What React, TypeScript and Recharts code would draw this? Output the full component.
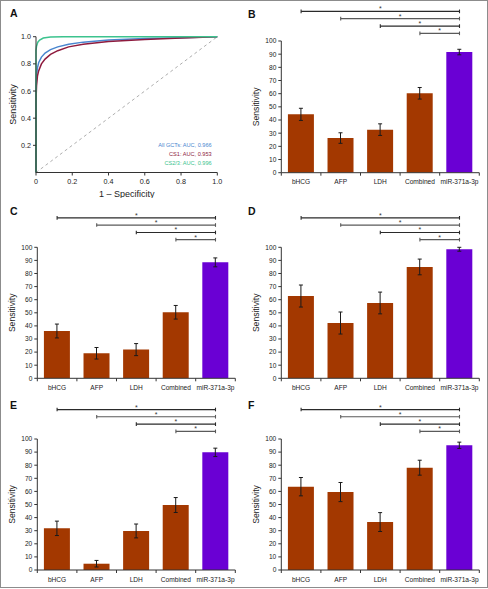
import React from 'react';
import { BarChart, Bar, XAxis, YAxis, ErrorBar, Cell, ReferenceLine, LineChart, Line } from 'recharts';

// ---------- Data ----------
const categories = ['bHCG', 'AFP', 'LDH', 'Combined', 'miR-371a-3p'];

const sensB = [44.3, 26.3, 32.7, 60.3, 91.6];
const errB = [4.6, 4.0, 4.4, 4.4, 2.1];
const sensC = [36.1, 19.1, 21.9, 50.4, 88.5];
const errC = [5.3, 4.4, 4.6, 5.2, 3.4];
const sensD = [62.8, 42.2, 57.5, 85.0, 98.5];
const errD = [8.4, 8.4, 8.3, 6.0, 1.5];
const sensE = [31.8, 4.8, 29.8, 49.6, 89.8];
const errE = [5.5, 2.5, 5.3, 5.7, 3.2];
const sensF = [63.6, 59.5, 36.6, 78.1, 95.2];
const errF = [7.0, 7.3, 7.2, 5.7, 2.4];

const yTicks = [0, 10, 20, 30, 40, 50, 60, 70, 80, 90, 100];
// significance bracket levels (data units above the 0-100 axis), from bHCG, AFP, LDH, Combined to miR-371a-3p
const bracketLevels = [122.5, 117, 111.3, 105.8];
const starLabel = '*';

// ROC curves
const rocNames = ['All GCTs: AUC, 0.966', 'CS1: AUC, 0.953', 'CS2/3: AUC, 0.996'];
const allFpr = [0, 0, 0.003, 0.008, 0.015, 0.03, 0.05, 0.08, 0.12, 0.18, 0.26, 0.4, 0.6, 0.8, 1];
const allTpr = [0, 0.6, 0.71, 0.77, 0.81, 0.85, 0.88, 0.905, 0.925, 0.945, 0.96, 0.975, 0.986, 0.993, 1];
const cs1Fpr = [0, 0, 0.003, 0.008, 0.015, 0.03, 0.05, 0.08, 0.12, 0.18, 0.26, 0.4, 0.6, 0.8, 1];
const cs1Tpr = [0, 0.53, 0.64, 0.71, 0.75, 0.8, 0.835, 0.87, 0.897, 0.925, 0.945, 0.965, 0.979, 0.99, 1];
const cs23Fpr = [0, 0, 0.003, 0.01, 0.02, 0.04, 0.08, 0.15, 1];
const cs23Tpr = [0, 0.9, 0.93, 0.96, 0.975, 0.99, 0.997, 1, 1];
const rocXTicks = [0, 0.2, 0.4, 0.6, 0.8, 1];
const rocYTicks = [0.2, 0.4, 0.6, 0.8, 1];

// ---------- Styles ----------
const BROWN = '#A33800';
const PURPLE = '#6A00D4';
const AXIS = '#333';
const FONT = '"Liberation Sans", Arial, Helvetica, sans-serif';
const rocColors = ['#4A86CF', '#8E1B3E', '#3CC38E'];

const toPoints = (xs: number[], ys: number[]) => xs.map((x, i) => ({ x, y: ys[i] }));

const CatTick = (props: any) => {
  const { x, y, payload, index } = props;
  const half = payload && payload.offset ? payload.offset : 19.8;
  const ly = y - 7;
  const isLast = index === categories.length - 1;
  return (
    <g>
      <line x1={x - half} x2={x - half} y1={ly} y2={ly + 3} stroke={AXIS} strokeWidth={1} />
      {isLast && <line x1={x + half} x2={x + half} y1={ly} y2={ly + 3} stroke={AXIS} strokeWidth={1} />}
      <text x={x} y={y} dy="0.71em" textAnchor="middle" fontSize={6.6} fill="#222">
        {payload.value}
      </text>
    </g>
  );
};

const Letter = ({ ch, left, top }: { ch: string; left: number; top: number }) => (
  <div
    style={{
      position: 'absolute',
      left,
      top,
      fontSize: 10.5,
      lineHeight: '10px',
      fontWeight: 'bold',
      color: '#111',
    }}
  >
    {ch}
  </div>
);

function BarPanel(props: {
  letter: string;
  left: number;
  top: number;
  plotTop: number;
  plotBottom: number;
  sens: number[];
  err: number[];
  letterTop: number;
}) {
  const { letter, left, top, plotTop, plotBottom, sens, err, letterTop } = props;
  const data = categories.map((c, i) => ({ name: c, value: sens[i], err: err[i] }));
  const axisH = 22;
  const height = plotBottom - top + axisH;
  const last = categories[categories.length - 1];
  const brackets: any[] = [];
  bracketLevels.forEach((lvl, i) => {
    const from = categories[i];
    const col = i % 2 === 1 ? '#5a5a5a' : '#2a2a2a';
    brackets.push(
      <ReferenceLine
        key={'b' + i}
        segment={[{ x: from, y: lvl }, { x: last, y: lvl }]}
        stroke={col}
        strokeWidth={1.2}
        ifOverflow="visible"
        label={{ value: starLabel, position: 'top', offset: 0, fontSize: 7, fill: '#333' }}
      />
    );
    brackets.push(
      <ReferenceLine
        key={'l' + i}
        segment={[{ x: from, y: lvl - 1.4 }, { x: from, y: lvl + 1.4 }]}
        stroke={col}
        strokeWidth={1.1}
        ifOverflow="visible"
      />
    );
    brackets.push(
      <ReferenceLine
        key={'r' + i}
        segment={[{ x: last, y: lvl - 1.4 }, { x: last, y: lvl + 1.4 }]}
        stroke={col}
        strokeWidth={1.1}
        ifOverflow="visible"
      />
    );
  });
  return (
    <div style={{ position: 'absolute', left, top, width: 244, height }}>
      <BarChart
        width={244}
        height={height}
        data={data}
        margin={{ top: plotTop - top, right: 8.7, bottom: 0, left: 0 }}
        barCategoryGap="16.7%"
      >
        <XAxis
          dataKey="name"
          height={axisH}
          interval={0}
          tick={<CatTick />}
          tickLine={false}
          tickSize={3}
          tickMargin={4}
          axisLine={{ stroke: AXIS }}
        />
        <YAxis
          width={37.3}
          domain={[0, 100]}
          ticks={yTicks}
          allowDataOverflow
          interval={0}
          tick={{ fontSize: 6.6, fill: '#222' }}
          tickSize={3}
          axisLine={{ stroke: AXIS }}
          tickLine={{ stroke: AXIS }}
          label={{
            value: 'Sensitivity',
            angle: -90,
            position: 'insideLeft',
            offset: 12,
            style: { textAnchor: 'middle', fontSize: 8.6, fill: '#222' },
          }}
        />
        <Bar dataKey="value" isAnimationActive={false}>
          {data.map((d, i) => (
            <Cell key={d.name} fill={i === categories.length - 1 ? PURPLE : BROWN} />
          ))}
          <ErrorBar dataKey="err" width={2} stroke="#1a1a1a" strokeWidth={1} />
        </Bar>
        {brackets}
      </BarChart>
      <Letter ch={letter} left={left === 0 ? 10 : 4} top={letterTop - top} />
    </div>
  );
}

function RocPanel() {
  const series = [toPoints(allFpr, allTpr), toPoints(cs1Fpr, cs1Tpr), toPoints(cs23Fpr, cs23Tpr)];
  return (
    <div style={{ position: 'absolute', left: 0, top: 0, width: 244, height: 198 }}>
      <LineChart width={244} height={198} margin={{ top: 36.7, right: 26.7, bottom: 0, left: 0 }}>
        <XAxis
          type="number"
          dataKey="x"
          domain={[0, 1]}
          ticks={rocXTicks}
          interval={0}
          height={25.5}
          tick={{ fontSize: 7.2, fill: '#222' }}
          tickFormatter={(v: number) => (v === 0 ? '0' : v.toFixed(1))}
          tickSize={3}
          tickMargin={3}
          axisLine={{ stroke: AXIS }}
          tickLine={{ stroke: AXIS }}
          label={{ value: '1 – Specificity', position: 'insideBottom', offset: 1, style: { fontSize: 9, fill: '#222' } }}
        />
        <YAxis
          type="number"
          dataKey="y"
          domain={[0, 1]}
          ticks={rocYTicks}
          interval={0}
          width={36}
          tick={{ fontSize: 7.2, fill: '#222' }}
          tickFormatter={(v: number) => v.toFixed(1)}
          tickSize={3}
          axisLine={{ stroke: AXIS }}
          tickLine={{ stroke: AXIS }}
          label={{
            value: 'Sensitivity',
            angle: -90,
            position: 'insideLeft',
            offset: 13,
            style: { textAnchor: 'middle', fontSize: 9, fill: '#222' },
          }}
        />
        <ReferenceLine
          segment={[{ x: 0, y: 0 }, { x: 1, y: 1 }]}
          stroke="#999"
          strokeDasharray="3 3"
          strokeWidth={0.8}
        />
        {series.map((s, i) => (
          <Line
            key={rocNames[i]}
            name={rocNames[i]}
            data={s}
            dataKey="y"
            type="linear"
            stroke={rocColors[i]}
            strokeWidth={1.5}
            dot={false}
            activeDot={false}
            isAnimationActive={false}
          />
        ))}
      </LineChart>
      <div
        style={{
          position: 'absolute',
          left: 0,
          top: 141,
          width: 211.7,
          textAlign: 'right',
          fontSize: 5.6,
          lineHeight: '9px',
        }}
      >
        {rocNames.map((n, i) => (
          <div key={n} style={{ color: rocColors[i] }}>
            {n}
          </div>
        ))}
      </div>
      <Letter ch="A" left={10} top={7.7} />
    </div>
  );
}

export default function App() {
  return (
    <div
      style={{
        position: 'absolute',
        left: 0,
        top: 0,
        width: 488,
        height: 589,
        background: '#fff',
        fontFamily: FONT,
        overflow: 'hidden',
      }}
    >
      <div
        style={{
          position: 'absolute',
          left: 0,
          top: 0,
          width: 486,
          height: 586,
          border: '1px solid #8c8c8c',
        }}
      />
      <RocPanel />
      <BarPanel letter="B" left={244} top={0} plotTop={41} plotBottom={172.7} sens={sensB} err={errB} letterTop={8.7} />
      <BarPanel letter="C" left={0} top={195} plotTop={247.3} plotBottom={378.3} sens={sensC} err={errC} letterTop={206.4} />
      <BarPanel letter="D" left={244} top={195} plotTop={247.3} plotBottom={378.3} sens={sensD} err={errD} letterTop={206.4} />
      <BarPanel letter="E" left={0} top={390} plotTop={439} plotBottom={570} sens={sensE} err={errE} letterTop={400.4} />
      <BarPanel letter="F" left={244} top={390} plotTop={439} plotBottom={570} sens={sensF} err={errF} letterTop={400.4} />
    </div>
  );
}
